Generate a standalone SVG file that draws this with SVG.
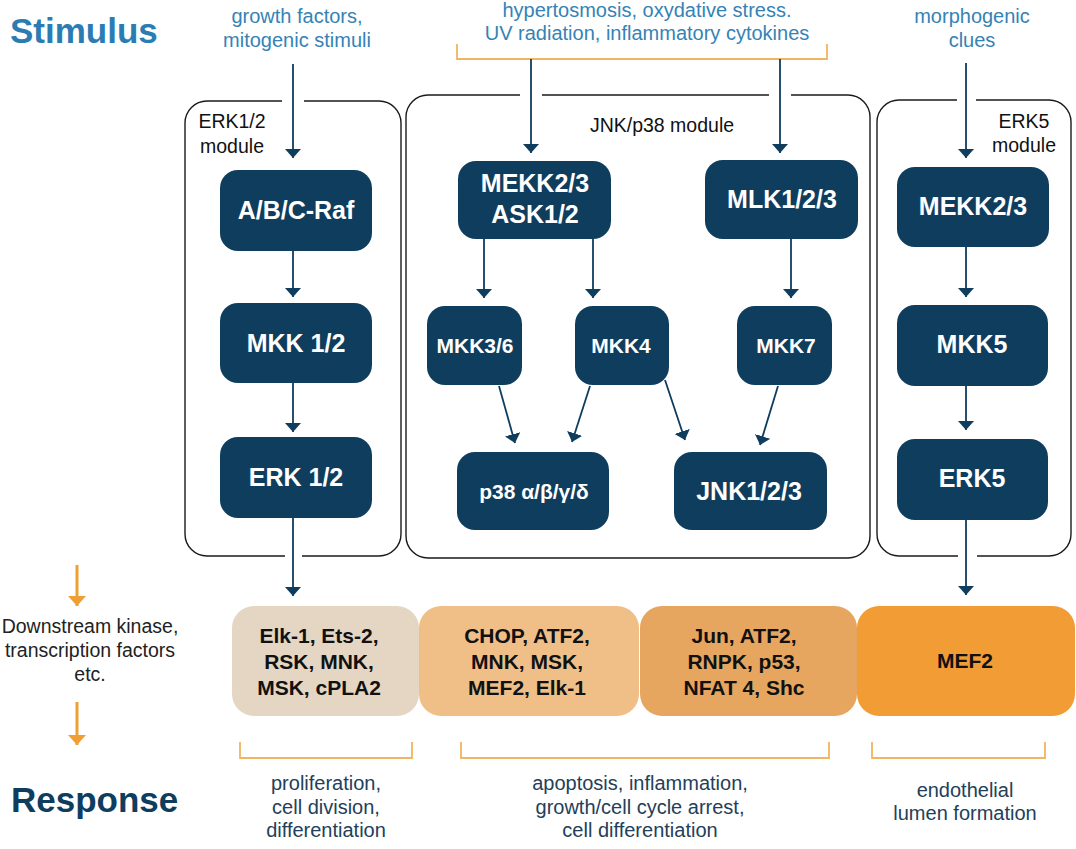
<svg xmlns="http://www.w3.org/2000/svg" width="1076" height="849" viewBox="0 0 1076 849">
<style>
  .node { fill: #0f3d5e; }
  .nt { fill: #ffffff; font-family: "Liberation Sans", Arial, sans-serif; font-weight: bold; text-anchor: middle; }
  .big { font-size: 25px; }
  .small { font-size: 21px; }
  .frame { fill: none; stroke: #1a1a1a; stroke-width: 1.4; }
  .modlbl { fill: #111; font-family: "Liberation Sans", Arial, sans-serif; font-size: 19.5px; text-anchor: middle; }
  .conn { stroke: #0f3d5e; stroke-width: 1.8; fill: none; marker-end: url(#ah); }
  .oconn { stroke: #ef9f34; stroke-width: 3; fill: none; marker-end: url(#oah); }
  .brk { stroke: #f0b462; stroke-width: 1.8; fill: none; }
  .stim { fill: #3583b5; font-family: "Liberation Sans", Arial, sans-serif; font-size: 20px; text-anchor: middle; }
  .resp { fill: #23405a; font-family: "Liberation Sans", Arial, sans-serif; font-size: 20px; text-anchor: middle; }
  .bt { fill: #111; font-family: "Liberation Sans", Arial, sans-serif; font-size: 21px; font-weight: bold; text-anchor: middle; }
  .leg { fill: #222; font-family: "Liberation Sans", Arial, sans-serif; font-size: 19.5px; text-anchor: middle; }
  .head { font-family: "Liberation Sans", Arial, sans-serif; font-size: 35px; font-weight: bold; }
</style>
<defs>
  <marker id="ah" viewBox="0 0 9 16" refX="9" refY="8" markerWidth="9" markerHeight="16" markerUnits="userSpaceOnUse" orient="auto">
    <path d="M0,0 L9,8 L0,16 z" fill="#0f3d5e"/>
  </marker>
  <marker id="oah" viewBox="0 0 10 18" refX="10" refY="9" markerWidth="10" markerHeight="18" markerUnits="userSpaceOnUse" orient="auto">
    <path d="M0,0 L10,9 L0,18 z" fill="#ef9f34"/>
  </marker>
</defs>
<rect width="1076" height="849" fill="#ffffff"/>

<!-- headings -->
<text class="head" x="10" y="43" fill="#2b7cb3">Stimulus</text>
<text class="head" x="11" y="812" fill="#0f3d5e">Response</text>

<!-- stimulus labels -->
<g id="stim-erk12">
  <text class="stim" x="297" y="23">growth factors,</text>
  <text class="stim" x="297" y="47">mitogenic stimuli</text>
</g>
<g id="stim-jnk">
  <text class="stim" x="647" y="17">hypertosmosis, oxydative stress.</text>
  <text class="stim" x="647" y="40">UV radiation, inflammatory cytokines</text>
  <path class="brk" d="M457,44 V59 H827 V44"/>
</g>
<g id="stim-erk5">
  <text class="stim" x="972" y="23">morphogenic</text>
  <text class="stim" x="972" y="47">clues</text>
</g>

<!-- modules -->
<g id="module-erk12">
  <path class="frame" d="M304,101 H379 A22,22 0 0 1 401,123 V534 A22,22 0 0 1 379,556 H302 M285,556 H207 A22,22 0 0 1 185,534 V123 A22,22 0 0 1 207,101 H282"/>
  <text class="modlbl" x="232" y="128">ERK1/2</text>
  <text class="modlbl" x="232" y="153">module</text>
</g>
<g id="module-jnkp38">
  <path class="frame" d="M542,95 H769 M791,95 H848 A22,22 0 0 1 870,117 V536 A22,22 0 0 1 848,558 H428 A22,22 0 0 1 406,536 V117 A22,22 0 0 1 428,95 H520"/>
  <text class="modlbl" x="662" y="132">JNK/p38 module</text>
</g>
<g id="module-erk5">
  <path class="frame" d="M976,100 H1049 A22,22 0 0 1 1071,122 V534 A22,22 0 0 1 1049,556 H977 M958,556 H899 A22,22 0 0 1 877,534 V122 A22,22 0 0 1 899,100 H957"/>
  <text class="modlbl" x="1024" y="128">ERK5</text>
  <text class="modlbl" x="1024" y="152">module</text>
</g>

<!-- ERK1/2 nodes -->
<g id="raf"><rect class="node" x="220" y="170" width="152" height="81" rx="18"/><text class="nt big" x="296" y="219">A/B/C-Raf</text></g>
<g id="mkk12"><rect class="node" x="220" y="303" width="152" height="80" rx="18"/><text class="nt big" x="296" y="352">MKK 1/2</text></g>
<g id="erk12"><rect class="node" x="220" y="437" width="152" height="81" rx="18"/><text class="nt big" x="296" y="486">ERK 1/2</text></g>

<!-- JNK/p38 nodes -->
<g id="mekk-ask"><rect class="node" x="458" y="161" width="153" height="78" rx="18"/><text class="nt big" x="535" y="192">MEKK2/3</text><text class="nt big" x="535" y="223">ASK1/2</text></g>
<g id="mlk"><rect class="node" x="705" y="160" width="153" height="79" rx="18"/><text class="nt big" x="782" y="208">MLK1/2/3</text></g>
<g id="mkk36"><rect class="node" x="427" y="306" width="95" height="79" rx="18"/><text class="nt small" x="475" y="353">MKK3/6</text></g>
<g id="mkk4"><rect class="node" x="575" y="306" width="94" height="79" rx="18"/><text class="nt small" x="621" y="353">MKK4</text></g>
<g id="mkk7"><rect class="node" x="737" y="306" width="95" height="79" rx="18"/><text class="nt small" x="786" y="353">MKK7</text></g>
<g id="p38"><rect class="node" x="457" y="452" width="152" height="78" rx="18"/><text class="nt small" x="534" y="499">p38 α/β/γ/δ</text></g>
<g id="jnk"><rect class="node" x="674" y="452" width="153" height="78" rx="18"/><text class="nt big" x="749" y="500">JNK1/2/3</text></g>

<!-- ERK5 nodes -->
<g id="mekk23"><rect class="node" x="897" y="167" width="152" height="80" rx="18"/><text class="nt big" x="973" y="215">MEKK2/3</text></g>
<g id="mkk5"><rect class="node" x="897" y="305" width="151" height="81" rx="18"/><text class="nt big" x="972" y="353">MKK5</text></g>
<g id="erk5"><rect class="node" x="897" y="439" width="151" height="81" rx="18"/><text class="nt big" x="972" y="487">ERK5</text></g>

<!-- downstream boxes -->
<g id="ds-erk12"><rect x="232" y="606" width="187" height="110" rx="22" fill="#e5d6c4"/>
  <text class="bt" x="319" y="643">Elk-1, Ets-2,</text><text class="bt" x="319" y="669">RSK, MNK,</text><text class="bt" x="319" y="695">MSK, cPLA2</text></g>
<g id="ds-p38"><rect x="419" y="606" width="220" height="110" rx="22" fill="#f0bf88"/>
  <text class="bt" x="527" y="643">CHOP, ATF2,</text><text class="bt" x="527" y="669">MNK, MSK,</text><text class="bt" x="527" y="695">MEF2, Elk-1</text></g>
<g id="ds-jnk"><rect x="640" y="606" width="217" height="110" rx="22" fill="#e7a660"/>
  <text class="bt" x="744" y="643">Jun, ATF2,</text><text class="bt" x="744" y="669">RNPK, p53,</text><text class="bt" x="744" y="695">NFAT 4, Shc</text></g>
<g id="ds-erk5"><rect x="857" y="606" width="218" height="110" rx="22" fill="#f19c34"/>
  <text class="bt" x="965" y="668">MEF2</text></g>

<!-- left legend -->
<g id="legend">
  <text class="leg" x="90" y="633">Downstream kinase,</text>
  <text class="leg" x="90" y="657">transcription factors</text>
  <text class="leg" x="90" y="681">etc.</text>
</g>

<!-- response brackets and labels -->
<g id="resp-erk12">
  <path class="brk" d="M240,742 V758 H412 V742"/>
  <text class="resp" x="326" y="790">proliferation,</text>
  <text class="resp" x="326" y="814">cell division,</text>
  <text class="resp" x="326" y="837">differentiation</text>
</g>
<g id="resp-jnk">
  <path class="brk" d="M461,742 V758 H829 V742"/>
  <text class="resp" x="640" y="790">apoptosis, inflammation,</text>
  <text class="resp" x="640" y="814">growth/cell cycle arrest,</text>
  <text class="resp" x="640" y="837">cell differentiation</text>
</g>
<g id="resp-erk5">
  <path class="brk" d="M872,742 V758 H1045 V742"/>
  <text class="resp" x="965" y="797">endothelial</text>
  <text class="resp" x="965" y="820">lumen formation</text>
</g>

<!-- connectors -->
<g id="connectors">
  <line class="conn" x1="293" y1="64" x2="293" y2="158"/>
  <line class="conn" x1="293" y1="251" x2="293" y2="297"/>
  <line class="conn" x1="293" y1="383" x2="293" y2="432"/>
  <line class="conn" x1="293" y1="518" x2="293" y2="596"/>

  <line class="conn" x1="531" y1="59" x2="531" y2="153"/>
  <line class="conn" x1="780" y1="59" x2="780" y2="153"/>
  <line class="conn" x1="484" y1="239" x2="484" y2="298"/>
  <line class="conn" x1="593" y1="239" x2="593" y2="298"/>
  <line class="conn" x1="791" y1="239" x2="791" y2="298"/>
  <line class="conn" x1="499" y1="386" x2="515" y2="443"/>
  <line class="conn" x1="590" y1="386" x2="572" y2="442"/>
  <line class="conn" x1="665" y1="380" x2="685" y2="440"/>
  <line class="conn" x1="778" y1="386" x2="760" y2="445"/>

  <line class="conn" x1="966" y1="63" x2="966" y2="158"/>
  <line class="conn" x1="966" y1="247" x2="966" y2="297"/>
  <line class="conn" x1="966" y1="386" x2="966" y2="430"/>
  <line class="conn" x1="966" y1="520" x2="966" y2="595"/>

  <line class="oconn" x1="77" y1="565" x2="77" y2="606"/>
  <line class="oconn" x1="77" y1="702" x2="77" y2="745"/>
</g>
</svg>
